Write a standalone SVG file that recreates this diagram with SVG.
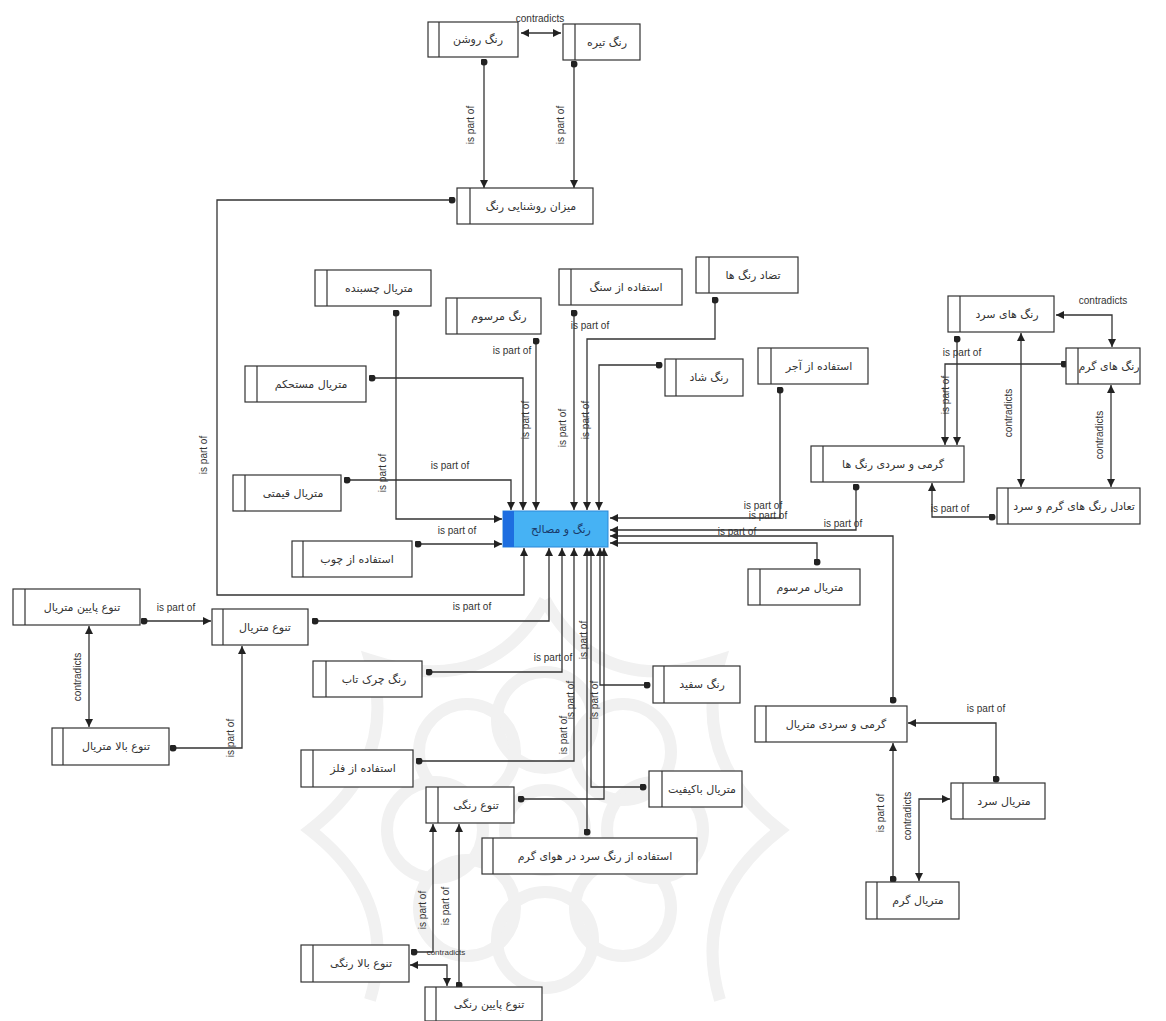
<svg xmlns="http://www.w3.org/2000/svg" width="1166" height="1021" viewBox="0 0 1166 1021">
<defs>
<marker id="arr" viewBox="0 0 10 10" refX="10" refY="5" markerWidth="8" markerHeight="8" markerUnits="userSpaceOnUse" orient="auto-start-reverse"><path d="M0,0 L10,5 L0,10 z" fill="#222"/></marker>
<marker id="dot" viewBox="0 0 10 10" refX="5" refY="5" markerWidth="7" markerHeight="7" markerUnits="userSpaceOnUse"><circle cx="5" cy="5" r="5" fill="#222"/></marker>
<style>
.n rect{fill:#fff;stroke:#333;stroke-width:1.2}
.n line{stroke:#333;stroke-width:1.2}
.n text{font-family:"DejaVu Sans","Noto Sans",sans-serif;font-size:11px;fill:#333;text-anchor:middle;dominant-baseline:central}
.c path{fill:none;stroke:#333;stroke-width:1.3}
.p{marker-start:url(#dot);marker-end:url(#arr)}
.d{marker-start:url(#arr);marker-end:url(#arr)}
.l text{font-family:"Liberation Sans","DejaVu Sans",sans-serif;font-size:10px;fill:#333;text-anchor:middle;dominant-baseline:central}
.wm{fill:none;stroke:#f1f1f1;stroke-width:12}
</style>
</defs>
<rect width="1166" height="1021" fill="#fff"/>
<g id="watermark">
<circle class="wm" cx="545" cy="830" r="40"/>
<circle class="wm" cx="545" cy="720" r="48"/>
<circle class="wm" cx="545" cy="940" r="48"/>
<circle class="wm" cx="435" cy="830" r="48"/>
<circle class="wm" cx="655" cy="830" r="48"/>
<circle class="wm" cx="467" cy="752" r="48"/>
<circle class="wm" cx="623" cy="752" r="48"/>
<circle class="wm" cx="467" cy="908" r="48"/>
<circle class="wm" cx="623" cy="908" r="48"/>
<path class="wm" d="M545,600 Q600,700 720,660 Q690,760 780,830 Q690,900 720,1000 M545,600 Q490,700 370,660 Q400,760 310,830 Q400,900 370,1000"/>
</g>
<g class="c" id="connectors">
<path class="d" d="M521,33 L561,33"/>
<path class="p" d="M484,62 L484,188"/>
<path class="p" d="M574,64 L574,188"/>
<path class="p" d="M452,200 L217,200 L217,595 L524,595 L524,548"/>
<path class="p" d="M396,313 L396,519 L502,519"/>
<path class="p" d="M372,378 L523,378 L523,510"/>
<path class="p" d="M347,480 L511,480 L511,510"/>
<path class="p" d="M536,341 L536,510"/>
<path class="p" d="M574,313 L574,510"/>
<path class="p" d="M715,300 L715,339 L587,339 L587,510"/>
<path class="p" d="M659,365 L599,365 L599,510"/>
<path class="p" d="M418,544 L502,544"/>
<path class="p" d="M315,621 L549,621 L549,548"/>
<path class="p" d="M429,672 L562,672 L562,548"/>
<path class="p" d="M419,761 L574,761 L574,548"/>
<path class="p" d="M587,832 L587,548"/>
<path class="p" d="M643,787 L591,787 L591,548"/>
<path class="p" d="M647,685 L600,685 L600,548"/>
<path class="p" d="M521,799 L604,799 L604,548"/>
<path class="p" d="M780,390 L780,518 L610,518"/>
<path class="p" d="M856,487 L856,530 L610,530"/>
<path class="p" d="M893,700 L893,536 L610,536"/>
<path class="p" d="M817,562 L817,543 L610,543"/>
<path class="d" d="M1056,315 L1112,315 L1112,347"/>
<path class="p" d="M957,339 L957,445"/>
<path class="p" d="M1064,364 L945,364 L945,445"/>
<path class="d" d="M1021,333 L1021,487"/>
<path class="d" d="M1111,385 L1111,487"/>
<path class="p" d="M992,517 L932,517 L932,483"/>
<path class="p" d="M996,779 L996,723 L908,723"/>
<path class="p" d="M893,879 L893,743"/>
<path class="d" d="M919,881 L919,799 L950,799"/>
<path class="p" d="M144,621 L211,621"/>
<path class="d" d="M89,626 L89,727"/>
<path class="p" d="M173,748 L242,748 L242,646"/>
<path class="p" d="M414,952 L433,952 L433,824"/>
<path class="p" d="M459,985 L459,824"/>
<path class="d" d="M410,965 L447,965 L447,986"/>
</g>
<g class="l" id="labels">
<text x="540" y="18">contradicts</text>
<text transform="translate(470,125) rotate(-90)">is part of</text>
<text transform="translate(560,125) rotate(-90)">is part of</text>
<text x="450" y="465">is part of</text>
<text x="512" y="350">is part of</text>
<text x="590" y="325">is part of</text>
<text transform="translate(525,420) rotate(-90)">is part of</text>
<text transform="translate(562,428) rotate(-90)">is part of</text>
<text transform="translate(585,420) rotate(-90)">is part of</text>
<text transform="translate(382,473) rotate(-90)">is part of</text>
<text x="457" y="530">is part of</text>
<text transform="translate(203,455) rotate(-90)">is part of</text>
<text x="472" y="606">is part of</text>
<text x="553" y="657">is part of</text>
<text transform="translate(583,640) rotate(-90)">is part of</text>
<text transform="translate(570,700) rotate(-90)">is part of</text>
<text transform="translate(594,700) rotate(-90)">is part of</text>
<text transform="translate(563,735) rotate(-90)">is part of</text>
<text x="763" y="505">is part of</text>
<text x="768" y="515">is part of</text>
<text x="737" y="531">is part of</text>
<text x="843" y="523">is part of</text>
<text x="1103" y="300">contradicts</text>
<text x="962" y="352">is part of</text>
<text transform="translate(945,395) rotate(-90)">is part of</text>
<text transform="translate(1008,413) rotate(-90)">contradicts</text>
<text transform="translate(1099,435) rotate(-90)">contradicts</text>
<text x="950" y="508">is part of</text>
<text x="986" y="708">is part of</text>
<text transform="translate(880,813) rotate(-90)">is part of</text>
<text transform="translate(907,816) rotate(-90)">contradicts</text>
<text x="176" y="607">is part of</text>
<text transform="translate(77,677) rotate(-90)">contradicts</text>
<text transform="translate(230,738) rotate(-90)">is part of</text>
<text transform="translate(422,910) rotate(-90)">is part of</text>
<text transform="translate(445,906) rotate(-90)">is part of</text>
<text x="446" y="952" style="font-size:8px">contradicts</text>
</g>
<g id="hub"><rect x="503" y="511" width="105" height="36" fill="#46b2f4" stroke="#2a88d8" stroke-width="1"/><rect x="503" y="511" width="11" height="36" fill="#1d6ee0"/><text x="561" y="529" style="font-family:'DejaVu Sans',sans-serif;font-size:11px;fill:#1a3a6a;text-anchor:middle;dominant-baseline:central">رنگ و مصالح</text></g>
<g class="n" id="n1"><rect x="428" y="22" width="90" height="35"/><line x1="439" y1="22" x2="439" y2="57"/><text x="478" y="39">رنگ روشن</text></g>
<g class="n" id="n2"><rect x="563" y="24" width="77" height="36"/><line x1="575" y1="24" x2="575" y2="60"/><text x="607" y="42">رنگ تیره</text></g>
<g class="n" id="n3"><rect x="457" y="188" width="136" height="36"/><line x1="470" y1="188" x2="470" y2="224"/><text x="531" y="206">میزان روشنایی رنگ</text></g>
<g class="n" id="n4"><rect x="315" y="270" width="116" height="36"/><line x1="327" y1="270" x2="327" y2="306"/><text x="379" y="288">متریال چسبنده</text></g>
<g class="n" id="n5"><rect x="446" y="298" width="95" height="36"/><line x1="457" y1="298" x2="457" y2="334"/><text x="499" y="316">رنگ مرسوم</text></g>
<g class="n" id="n6"><rect x="559" y="269" width="123" height="36"/><line x1="571" y1="269" x2="571" y2="305"/><text x="626" y="287">استفاده از سنگ</text></g>
<g class="n" id="n7"><rect x="696" y="257" width="102" height="36"/><line x1="709" y1="257" x2="709" y2="293"/><text x="753" y="275">تضاد رنگ ها</text></g>
<g class="n" id="n8"><rect x="665" y="359" width="78" height="37"/><line x1="676" y1="359" x2="676" y2="396"/><text x="709" y="377">رنگ شاد</text></g>
<g class="n" id="n9"><rect x="758" y="348" width="110" height="36"/><line x1="771" y1="348" x2="771" y2="384"/><text x="819" y="366">استفاده از آجر</text></g>
<g class="n" id="n10"><rect x="245" y="366" width="121" height="36"/><line x1="257" y1="366" x2="257" y2="402"/><text x="311" y="384">متریال مستحکم</text></g>
<g class="n" id="n11"><rect x="233" y="475" width="108" height="36"/><line x1="245" y1="475" x2="245" y2="511"/><text x="293" y="493">متریال قیمتی</text></g>
<g class="n" id="n12"><rect x="292" y="541" width="120" height="36"/><line x1="303" y1="541" x2="303" y2="577"/><text x="357" y="559">استفاده از چوب</text></g>
<g class="n" id="n13"><rect x="948" y="296" width="106" height="36"/><line x1="960" y1="296" x2="960" y2="332"/><text x="1007" y="314">رنگ های سرد</text></g>
<g class="n" id="n14"><rect x="1066" y="348" width="74" height="36"/><line x1="1078" y1="348" x2="1078" y2="384"/><text x="1109" y="366">رنگ های گرم</text></g>
<g class="n" id="n15"><rect x="811" y="446" width="153" height="36"/><line x1="823" y1="446" x2="823" y2="482"/><text x="893" y="464">گرمی و سردی رنگ ها</text></g>
<g class="n" id="n16"><rect x="997" y="488" width="143" height="36"/><line x1="1008" y1="488" x2="1008" y2="524"/><text x="1074" y="506">تعادل رنگ های گرم و سرد</text></g>
<g class="n" id="n17"><rect x="748" y="569" width="112" height="36"/><line x1="760" y1="569" x2="760" y2="605"/><text x="810" y="587">متریال مرسوم</text></g>
<g class="n" id="n18"><rect x="13" y="589" width="127" height="36"/><line x1="25" y1="589" x2="25" y2="625"/><text x="82" y="607">تنوع پایین متریال</text></g>
<g class="n" id="n19"><rect x="212" y="609" width="96" height="36"/><line x1="223" y1="609" x2="223" y2="645"/><text x="265" y="627">تنوع متریال</text></g>
<g class="n" id="n20"><rect x="52" y="728" width="117" height="37"/><line x1="63" y1="728" x2="63" y2="765"/><text x="116" y="746">تنوع بالا متریال</text></g>
<g class="n" id="n21"><rect x="313" y="661" width="109" height="36"/><line x1="326" y1="661" x2="326" y2="697"/><text x="374" y="679">رنگ چرک تاب</text></g>
<g class="n" id="n22"><rect x="653" y="666" width="87" height="37"/><line x1="664" y1="666" x2="664" y2="703"/><text x="702" y="684">رنگ سفید</text></g>
<g class="n" id="n23"><rect x="755" y="706" width="152" height="36"/><line x1="766" y1="706" x2="766" y2="742"/><text x="836" y="724">گرمی و سردی متریال</text></g>
<g class="n" id="n24"><rect x="301" y="750" width="112" height="37"/><line x1="313" y1="750" x2="313" y2="787"/><text x="363" y="768">استفاده از فلز</text></g>
<g class="n" id="n25"><rect x="649" y="771" width="93" height="36"/><line x1="662" y1="771" x2="662" y2="807"/><text x="702" y="789">متریال باکیفیت</text></g>
<g class="n" id="n26"><rect x="951" y="783" width="94" height="36"/><line x1="963" y1="783" x2="963" y2="819"/><text x="1004" y="801">متریال سرد</text></g>
<g class="n" id="n27"><rect x="426" y="787" width="88" height="36"/><line x1="438" y1="787" x2="438" y2="823"/><text x="476" y="805">تنوع رنگی</text></g>
<g class="n" id="n28"><rect x="482" y="838" width="215" height="36"/><line x1="493" y1="838" x2="493" y2="874"/><text x="595" y="856">استفاده از رنگ سرد در هوای گرم</text></g>
<g class="n" id="n29"><rect x="866" y="882" width="93" height="37"/><line x1="877" y1="882" x2="877" y2="919"/><text x="918" y="900">متریال گرم</text></g>
<g class="n" id="n30"><rect x="301" y="945" width="108" height="37"/><line x1="313" y1="945" x2="313" y2="982"/><text x="361" y="963">تنوع بالا رنگی</text></g>
<g class="n" id="n31"><rect x="425" y="987" width="117" height="34"/><line x1="436" y1="987" x2="436" y2="1021"/><text x="489" y="1004">تنوع پایین رنگی</text></g>
</svg>
